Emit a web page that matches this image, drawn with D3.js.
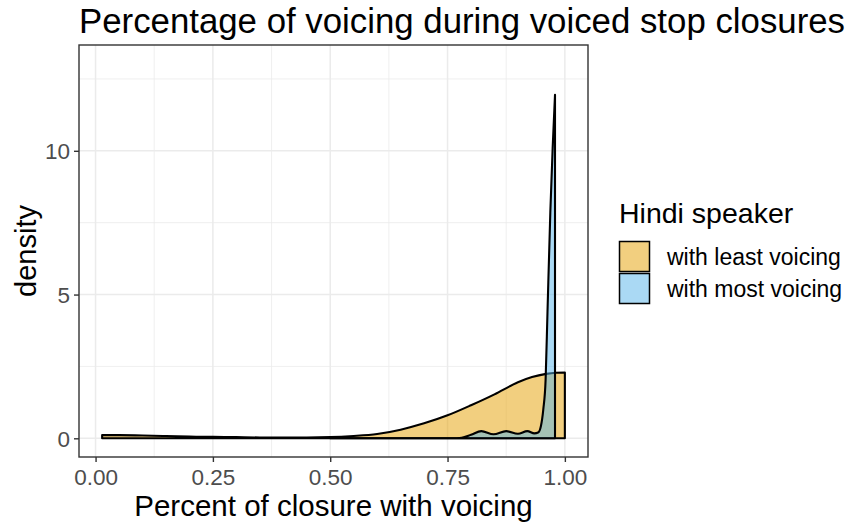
<!DOCTYPE html>
<html>
<head>
<meta charset="utf-8">
<script src="https://cdn.jsdelivr.net/npm/d3@7"></script>
<style>
  body { margin: 0; background: #fff; }
  text { font-family: "Liberation Sans", Arial, sans-serif; }
</style>
</head>
<body>
<svg id="chart" width="859" height="525"></svg>
<script>
// density estimates
const xLeast = [0.014, 0.05, 0.1, 0.15, 0.2, 0.25, 0.3, 0.35, 0.4, 0.45, 0.5, 0.55, 0.6, 0.65, 0.7, 0.75, 0.8, 0.85, 0.9, 0.93, 0.96, 0.98, 1.0];
const densLeast = [0.11, 0.11, 0.10, 0.08, 0.06, 0.05, 0.04, 0.03, 0.03, 0.03, 0.04, 0.08, 0.15, 0.3, 0.52, 0.8, 1.15, 1.53, 1.95, 2.13, 2.24, 2.28, 2.29];

const xMost = [0.5, 0.76, 0.78, 0.8, 0.822, 0.848, 0.875, 0.9, 0.92, 0.935, 0.943, 0.949, 0.954, 0.959, 0.963, 0.969, 0.974, 0.979];
const densMost = [0, 0, 0.02, 0.12, 0.25, 0.14, 0.25, 0.16, 0.25, 0.17, 0.2, 0.43, 1.0, 2.05, 4.4, 7.85, 10.1, 11.95];

const groups = ['with least voicing', 'with most voicing'];
const groupColors = ['#E69F00', '#56B4E9'];

const xTicks = [0, 0.25, 0.5, 0.75, 1];
const xMinor = [0.125, 0.375, 0.625, 0.875];
const yTicks = [0, 5, 10];
const yMinor = [2.5, 7.5, 12.5];
const yRange = [-0.65, 13.68];

const MARGIN = { top: 45, right: 271, bottom: 68, left: 79 };
const W = 859, H = 525;
const width = W - MARGIN.left - MARGIN.right;
const height = H - MARGIN.top - MARGIN.bottom;

const svg = d3.select('#chart');

const xExt = d3.extent(xLeast.concat(xMost.slice(1)));
const pad = (xExt[1] - xExt[0]) * 0.05;
const x = d3.scaleLinear().domain([xExt[0] - pad, xExt[1] + pad]).range([0, width]);
const y = d3.scaleLinear().domain(yRange).range([height, 0]);

const g = svg.append('g').attr('transform', `translate(${MARGIN.left},${MARGIN.top})`);

// grid
const grid = g.append('g').attr('class', 'grid');
grid.selectAll('.xminor').data(xMinor).enter().append('line')
  .attr('x1', d => x(d)).attr('x2', d => x(d)).attr('y1', 0).attr('y2', height)
  .attr('stroke', '#EBEBEB').attr('stroke-width', 0.8);
grid.selectAll('.yminor').data(yMinor).enter().append('line')
  .attr('y1', d => y(d)).attr('y2', d => y(d)).attr('x1', 0).attr('x2', width)
  .attr('stroke', '#EBEBEB').attr('stroke-width', 0.8);
grid.selectAll('.xmajor').data(xTicks).enter().append('line')
  .attr('x1', d => x(d)).attr('x2', d => x(d)).attr('y1', 0).attr('y2', height)
  .attr('stroke', '#EBEBEB').attr('stroke-width', 1.5);
grid.selectAll('.ymajor').data(yTicks).enter().append('line')
  .attr('y1', d => y(d)).attr('y2', d => y(d)).attr('x1', 0).attr('x2', width)
  .attr('stroke', '#EBEBEB').attr('stroke-width', 1.5);

// densities
const area = d3.area()
  .x(d => x(d[0]))
  .y0(y(0))
  .y1(d => y(d[1]))
  .curve(d3.curveMonotoneX);

const series = [
  d3.zip(xLeast, densLeast),
  d3.zip(xMost, densMost)
];

g.append('g').attr('class', 'areas')
  .selectAll('path')
  .data(series)
  .enter()
  .append('path')
  .attr('d', d => area(d))
  .attr('fill', (d, i) => groupColors[i])
  .attr('fill-opacity', 0.5)
  .attr('stroke', '#000')
  .attr('stroke-width', 2.1)
  .attr('stroke-linejoin', 'round');

// panel border
g.append('rect')
  .attr('width', width).attr('height', height)
  .attr('fill', 'none').attr('stroke', '#333333').attr('stroke-width', 1.4);

// axes
const xAxis = d3.axisBottom(x).tickValues(xTicks).tickFormat(d3.format('.2f')).tickSize(5).tickPadding(4);
const yAxis = d3.axisLeft(y).tickValues(yTicks).tickFormat(d3.format('d')).tickSize(5).tickPadding(4);

const gx = g.append('g').attr('transform', `translate(0,${height})`).call(xAxis);
const gy = g.append('g').call(yAxis);
[gx, gy].forEach(a => {
  a.select('.domain').remove();
  a.selectAll('.tick line').attr('stroke', '#333333').attr('stroke-width', 1.4);
  a.selectAll('.tick text').attr('fill', '#4D4D4D').style('font-size', '22.5px');
});
gx.selectAll('.tick text').attr('dy', null).attr('y', 28);
gy.selectAll('.tick text').attr('dy', '0.36em');

// titles
svg.append('text')
  .attr('x', MARGIN.left).attr('y', 33)
  .style('font-size', '34.8px').attr('fill', '#000')
  .text('Percentage of voicing during voiced stop closures');

svg.append('text')
  .attr('x', MARGIN.left + width / 2).attr('y', 516)
  .attr('text-anchor', 'middle')
  .style('font-size', '29.5px')
  .text('Percent of closure with voicing');

svg.append('text')
  .attr('transform', `translate(36,${MARGIN.top + height / 2}) rotate(-90)`)
  .attr('text-anchor', 'middle')
  .style('font-size', '29px')
  .text('density');

// legend
const legend = svg.append('g').attr('transform', 'translate(619,0)');
legend.append('text').attr('x', 0).attr('y', 223).style('font-size', '28.5px').text('Hindi speaker');
const items = legend.selectAll('.item').data(groups).enter().append('g')
  .attr('transform', (d, i) => `translate(0,${241 + i * 32})`);
items.append('rect')
  .attr('x', 0.5).attr('y', 0.5).attr('width', 30).attr('height', 30)
  .attr('fill', (d, i) => groupColors[i]).attr('fill-opacity', 0.5)
  .attr('stroke', '#000').attr('stroke-width', 1.5);
items.append('text').attr('x', 48).attr('y', 23.5).style('font-size', '23px').text(d => d);
</script>
</body>
</html>
